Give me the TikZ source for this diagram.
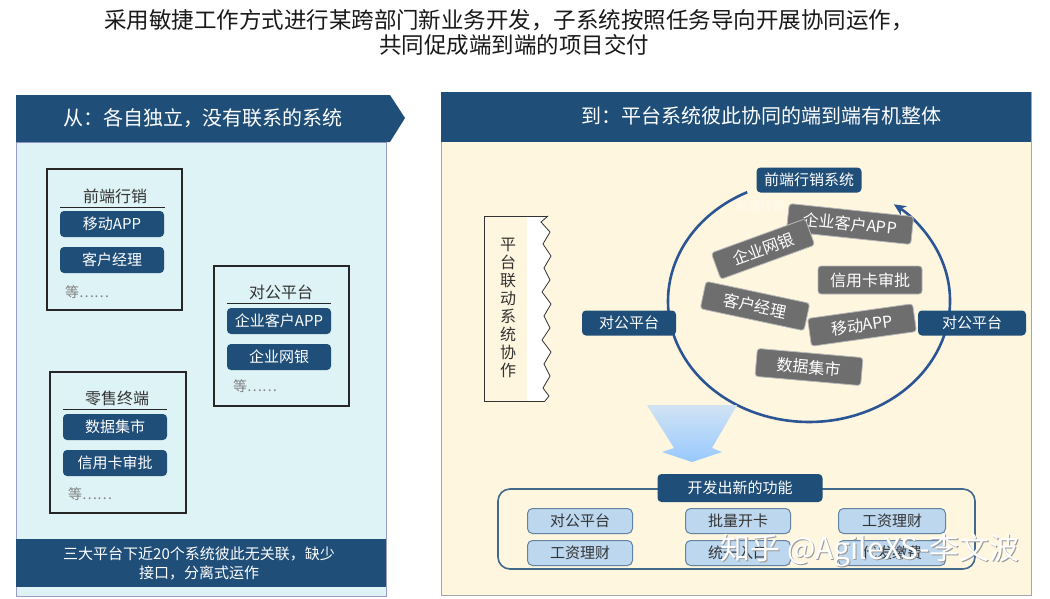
\documentclass[tikz,border=0pt]{standalone}
\usepackage{fontspec}
\setmainfont{Noto Sans CJK SC}
\usetikzlibrary{arrows.meta,shapes.misc}
\definecolor{dkblue}{HTML}{1F4E79}
\definecolor{cyanbg}{HTML}{DEF3F5}
\definecolor{creambg}{HTML}{FFF6DF}
\definecolor{grayb}{HTML}{6E6E6E}
\definecolor{lblue}{HTML}{BDD7EE}
\definecolor{arcblue}{HTML}{2B5594}
\definecolor{txtgray}{HTML}{333333}
\newcommand{\fs}[1]{\fontsize{#1}{#1}\selectfont}
\tikzset{
  btn/.style={fill=dkblue, rounded corners=4pt, text=white, minimum width=104pt, minimum height=26pt, inner sep=0pt, font=\fs{15}},
  grpbox/.style={draw=black!85, line width=1.2pt},
  grptitle/.style={text=txtgray, font=\fs{16}, inner sep=0pt},
  etc/.style={text=gray, font=\fs{14}, anchor=west, inner sep=0pt},
  gbox/.style={fill=grayb, draw=gray!55, line width=0.8pt, rounded corners=3pt, text=white, minimum height=28pt, inner sep=0pt, font=\fs{16}},
  bluebtn/.style={fill=dkblue, rounded corners=4pt, text=white, minimum height=25pt, inner sep=0pt, font=\fs{15}},
  lbox/.style={fill=lblue, draw=dkblue!70, line width=1pt, rounded corners=5pt, text=txtgray, minimum width=105pt, minimum height=25pt, inner sep=0pt, font=\fs{15}},
  hdr/.style={text=white, font=\fs{20}, inner sep=0pt}
}
\begin{document}
\begin{tikzpicture}[x=1pt,y=-1pt]
\useasboundingbox (0,0) rectangle (1050,598);
\fill[white] (0,0) rectangle (1050,598);
% title
\node[text=black!90, font=\fs{22.5}, inner sep=0pt] (t1) at (509,20) {采用敏捷工作方式进行某跨部门新业务开发，子系统按照任务导向开展协同运作，};
\node[text=black!90, font=\fs{22.5}, inner sep=0pt] (t2) at (514,45) {共同促成端到端的项目交付};

% ===== left panel =====
\draw[fill=cyanbg, draw=gray!70!blue!60] (16,142) rectangle (386,596);
\fill[dkblue] (16,95) -- (390,95) -- (405,118) -- (390,142) -- (16,142) -- cycle;
\node[hdr] (lh) at (203,118) {从：各自独立，没有联系的系统};
\fill[dkblue] (16,539) rectangle (386,587);
\node[text=white, font=\fs{15}, align=center, inner sep=0pt] (lb) at (199,563) {三大平台下近20个系统彼此无关联，缺少\\[4pt]接口，分离式运作};

% group 1
\draw[grpbox] (47,169) rectangle (182,310);
\node[grptitle] (g1t) at (115,196) {前端行销};
\draw[black!85, line width=1pt] (60,207) -- (165,207);
\node[btn] (g1a) at (112,224) {移动APP};
\node[btn] (g1b) at (112,260) {客户经理};
\node[etc] (g1c) at (65,292) {等……};

% group 2
\draw[grpbox] (214,266) rectangle (349,406);
\node[grptitle] (g2t) at (281,292) {对公平台};
\draw[black!85, line width=1pt] (227,303) -- (331,303);
\node[btn] (g2a) at (279,321) {企业客户APP};
\node[btn] (g2b) at (279,357) {企业网银};
\node[etc] (g2c) at (233,386) {等……};

% group 3
\draw[grpbox] (50,372) rectangle (186,513);
\node[grptitle] (g3t) at (117,398) {零售终端};
\draw[black!85, line width=1pt] (63,409) -- (167,409);
\node[btn] (g3a) at (115,427) {数据集市};
\node[btn] (g3b) at (115,463) {信用卡审批};
\node[etc] (g3c) at (68,494) {等……};

% ===== right panel =====
\draw[fill=creambg, draw=gray!70] (441,92) rectangle (1031,595);
\fill[dkblue] (441,92) rectangle (1031,142);
\node[hdr] (rh) at (761,116) {到：平台系统彼此协同的端到端有机整体};

% zigzag box
\fill[white] (484,216) -- (548,216) -- (541,222) -- (550,232) -- (543,244) -- (551,256) -- (544,268) -- (550,280) -- (542,292) -- (551,304) -- (544,316) -- (550,328) -- (542,340) -- (551,352) -- (544,364) -- (550,376) -- (543,388) -- (549,396) -- (545,401) -- (484,401) -- cycle;
\fill[creambg] (484,216) rectangle (527,401);
\draw[black!80, line width=1pt] (548,216) -- (484,216) -- (484,401) -- (545,401);
\draw[black!80, line width=0.8pt] (548,216) -- (541,222) -- (550,232) -- (543,244) -- (551,256) -- (544,268) -- (550,280) -- (542,292) -- (551,304) -- (544,316) -- (550,328) -- (542,340) -- (551,352) -- (544,364) -- (550,376) -- (543,388) -- (549,396) -- (545,401);
\node[text=txtgray, font=\fontsize{16}{18.1}\selectfont, align=center, inner sep=0pt] (vz) at (508,308) {平\\台\\联\\动\\系\\统\\协\\作};

% circle arrow
\draw[arcblue, line width=2.6pt, -{Stealth[length=12pt,width=11pt]}] (747.2,192.2) arc[start angle=116, end angle=413, x radius=141pt, y radius=121pt];

% ghost text
\node[text=white, opacity=0.6, font=\fs{12}, inner sep=0pt] (ghost) at (760,206) {前端行销};

% circle nodes
\node[bluebtn, minimum width=105pt] (fe) at (809,180) {前端行销系统};
\node[bluebtn, minimum width=94pt] (dl) at (629,323) {对公平台};
\node[bluebtn, minimum width=108pt] (dr) at (972,323) {对公平台};

\node[gbox, minimum width=125pt, rotate=-6] (s1) at (850,224) {企业客户APP};
\node[gbox, minimum width=100pt, rotate=20] (s2) at (763,249) {企业网银};
\node[gbox, minimum width=104pt] (s3) at (870,280) {信用卡审批};
\node[gbox, minimum width=106pt, rotate=-12] (s4) at (755,306) {客户经理};
\node[gbox, minimum width=106pt, rotate=8] (s5) at (862,325) {移动APP};
\node[gbox, minimum width=106pt, rotate=-5] (s6) at (809,367) {数据集市};

% funnel arrow
\shade[top color=lblue!70!white, bottom color=blue!25!cyan!30!white!85!blue] (647,405) -- (737,405) -- (712,448) -- (722,452) -- (692,462) -- (662,452) -- (674,448) -- cycle;

% bottom group
\draw[dkblue!85, line width=1.6pt, rounded corners=12pt] (498,489) rectangle (975,569);
\node[bluebtn, minimum width=165pt, minimum height=28pt] (nf) at (740,488) {开发出新的功能};
\node[lbox] (b1) at (580,521) {对公平台};
\node[lbox] (b2) at (738,521) {批量开卡};
\node[lbox, minimum width=107pt] (b3) at (892,521) {工资理财};
\node[lbox] (b4) at (580,553) {工资理财};
\node[lbox] (b5) at (738,553) {统一入口};
\node[lbox, minimum width=107pt] (b6) at (892,553) {代发缴费};

% watermark
\node[text=gray!80, font=\fs{30}, inner sep=0pt] (wm0) at (871,552) {知乎 @AgileXS-李文波};
\node[text=white, font=\fs{30}, inner sep=0pt] (wm) at (870,551) {知乎 @AgileXS-李文波};
\end{tikzpicture}
\end{document}
